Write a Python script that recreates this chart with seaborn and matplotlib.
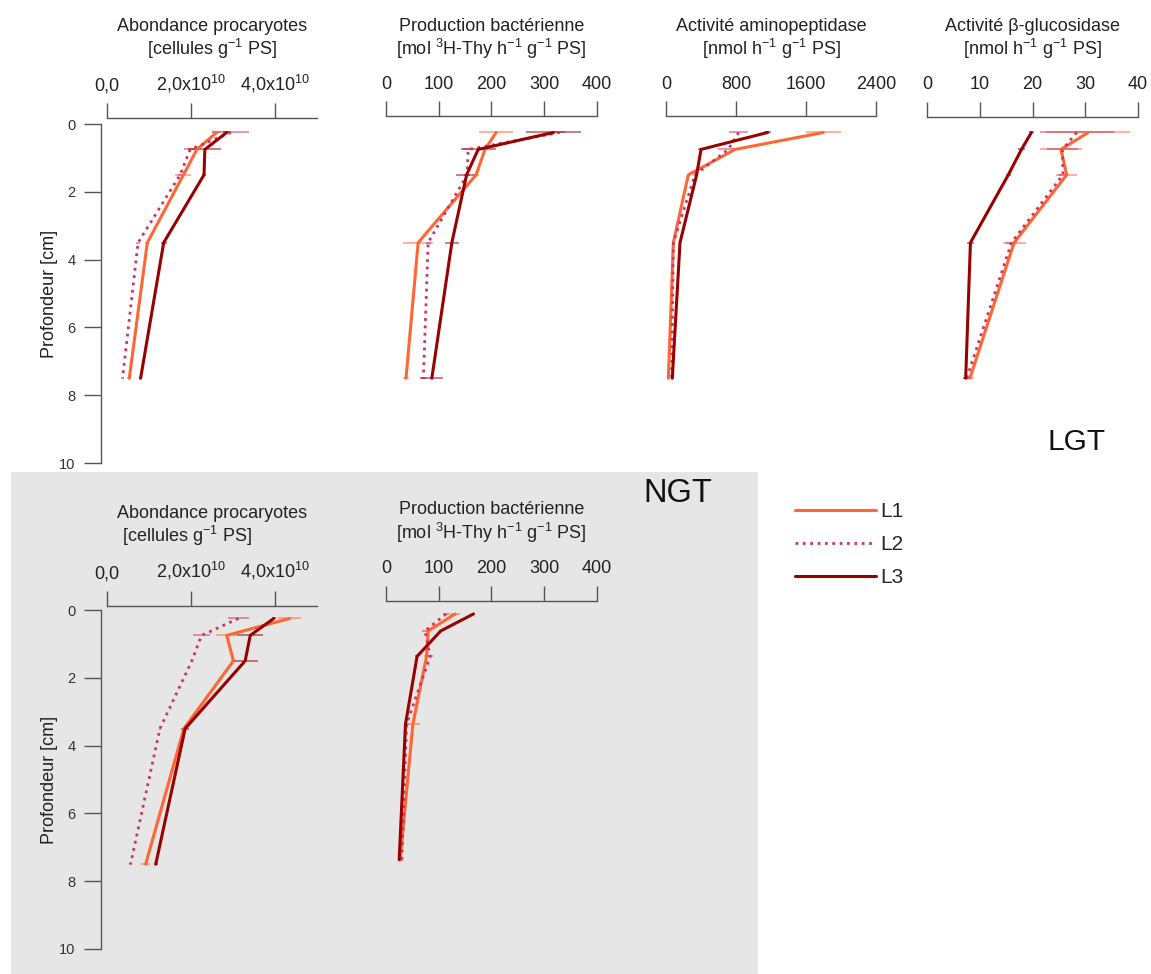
import matplotlib
matplotlib.use("Agg")
import matplotlib.pyplot as plt
import seaborn as sns

sns.set_style("ticks")
plt.rcParams['font.family'] = ['Liberation Sans', 'DejaVu Sans']
plt.rcParams['mathtext.fontset'] = 'custom'
plt.rcParams['mathtext.rm'] = 'Liberation Sans'
plt.rcParams['mathtext.it'] = 'Liberation Sans:italic'
plt.rcParams['mathtext.bf'] = 'Liberation Sans:bold'

# -----------------------------
# Data (depth profiles)
# -----------------------------
depth = [0.25, 0.75, 1.5, 3.5, 7.5]
series = ['L1', 'L2', 'L3']

# LGT - Abondance procaryotes (cellules g-1 PS)
lgt_abond_L1 = [2.61e10, 2.14e10, 1.82e10, 0.96e10, 0.53e10]
lgt_abond_L2 = [2.95e10, 1.98e10, 1.74e10, 0.74e10, 0.37e10]
lgt_abond_L3 = [2.85e10, 2.33e10, 2.31e10, 1.35e10, 0.80e10]
lgt_abond_err_L1 = [0.10e10, 0.10e10, 0.19e10, 0.05e10, 0.05e10]
lgt_abond_err_L2 = [0.44e10, 0.15e10, 0.05e10, 0.05e10, 0.03e10]
lgt_abond_err_L3 = [0.10e10, 0.39e10, 0.05e10, 0.07e10, 0.03e10]

# LGT - Production bacterienne
lgt_prod_L1 = [209, 188, 171, 61, 38]
lgt_prod_L2 = [330, 156, 154, 80, 71]
lgt_prod_L3 = [318, 175, 153, 125, 87]
lgt_prod_err_L1 = [32, 5, 5, 28, 5]
lgt_prod_err_L2 = [10, 10, 5, 5, 5]
lgt_prod_err_L3 = [52, 33, 20, 13, 22]

# LGT - Activite aminopeptidase
lgt_amino_L1 = [1798, 789, 255, 84, 27]
lgt_amino_L2 = [830, 712, 331, 84, 65]
lgt_amino_L3 = [1162, 400, 350, 160, 72]
lgt_amino_err_L1 = [200, 30, 20, 10, 5]
lgt_amino_err_L2 = [110, 120, 20, 10, 5]
lgt_amino_err_L3 = [40, 30, 20, 10, 5]

# LGT - Activite beta-glucosidase
lgt_gluco_L1 = [30.6, 25.4, 26.5, 16.5, 8.1]
lgt_gluco_L2 = [28.4, 25.7, 25.8, 16.0, 7.5]
lgt_gluco_L3 = [19.8, 17.9, 15.4, 8.2, 7.3]
lgt_gluco_err_L1 = [8, 4, 2, 2.2, 0.8]
lgt_gluco_err_L2 = [7, 3, 1, 1, 0.5]
lgt_gluco_err_L3 = [0.5, 0.6, 0.5, 0.6, 0.5]

# NGT - Abondance procaryotes
ngt_abond_L1 = [4.35e10, 2.85e10, 3.01e10, 1.83e10, 0.92e10]
ngt_abond_L2 = [3.13e10, 2.25e10, 2.02e10, 1.26e10, 0.56e10]
ngt_abond_L3 = [3.97e10, 3.41e10, 3.29e10, 1.86e10, 1.16e10]
ngt_abond_err_L1 = [0.28e10, 0.26e10, 0.05e10, 0.05e10, 0.10e10]
ngt_abond_err_L2 = [0.24e10, 0.20e10, 0.03e10, 0.03e10, 0.03e10]
ngt_abond_err_L3 = [0.05e10, 0.31e10, 0.30e10, 0.10e10, 0.05e10]

# NGT - Production bacterienne
ngt_prod_L1 = [131, 80, 77, 51, 27]
ngt_prod_L2 = [114, 74, 84, 39, 30]
ngt_prod_L3 = [166, 104, 59, 37, 25]
ngt_prod_err_L1 = [10, 5, 5, 13, 3]
ngt_prod_err_L2 = [5, 5, 5, 5, 3]
ngt_prod_err_L3 = [3, 3, 3, 3, 3]

# axis ticks / labels
abond_ticks = [0, 2e10, 4e10]
abond_ticklabels = ['0,0', '2,0x10$^{10}$', '4,0x10$^{10}$']
prod_ticks = [0, 100, 200, 300, 400]
amino_ticks = [0, 800, 1600, 2400]
gluco_ticks = [0, 10, 20, 30, 40]
depth_ticks = [0, 2, 4, 6, 8, 10]

title_abond = 'Abondance procaryotes\n[cellules g$^{-1}$ PS]'
title_abond_ngt = 'Abondance procaryotes\n [cellules g$^{-1}$ PS]'
title_prod = 'Production bactérienne\n[mol $^{3}$H-Thy h$^{-1}$ g$^{-1}$ PS]'
title_amino = 'Activité aminopeptidase\n[nmol h$^{-1}$ g$^{-1}$ PS]'
title_gluco = 'Activité β-glucosidase\n[nmol h$^{-1}$ g$^{-1}$ PS]'

colors = {'L1': '#ff6633', 'L2': '#cc3366', 'L3': '#990000'}
styles = {'L1': '-', 'L2': ':', 'L3': '-'}
widths = {'L1': 2.2, 'L2': 2.0, 'L3': 2.2}

# -----------------------------
# Figure layout (pixel boxes)
# -----------------------------
W, H = 1151, 974
fig = plt.figure(figsize=(W / 100, H / 100), dpi=100)

# grey NGT background
fig.patches.append(plt.Rectangle((11 / W, 0), (758 - 11) / W, 1 - 472 / H,
                                 transform=fig.transFigure, facecolor='#e6e6e6',
                                 edgecolor='none', zorder=-5))


def make_axes(x0, x1, y0, y1):
    ax = fig.add_axes([x0 / W, 1 - y1 / H, (x1 - x0) / W, (y1 - y0) / H], facecolor='none')
    ax.set_zorder(2)
    return ax


def draw_panel(ax, vals, errs, xmax, ticks, ticklabels, title, title_y, top_off,
               left_axis, left_off=4.5, malign='center'):
    for name, v, e in zip(series, vals, errs):
        ax.errorbar(v, depth, xerr=e, fmt='none', ecolor=colors[name], alpha=0.55,
                    elinewidth=1.3, capsize=0, zorder=2)
        sns.lineplot(x=v, y=depth, ax=ax, sort=False, estimator=None, color=colors[name],
                     linestyle=styles[name], linewidth=widths[name], label=name,
                     legend=False, zorder=3)
    ax.set_xlim(0, xmax)
    ax.set_ylim(10, 0)
    ax.xaxis.set_ticks_position('top')
    ax.set_xticks(ticks)
    ax.set_xticklabels(ticklabels)
    ax.tick_params(axis='x', direction='out', length=10.8, width=1.0, pad=6,
                   labelsize=13, colors='#555555', labelcolor='#222222')
    ax.set_xlabel('')
    for s in ['bottom', 'right']:
        ax.spines[s].set_visible(False)
    ax.spines['top'].set_position(('outward', top_off))
    ax.spines['top'].set_color('#555555')
    ax.spines['top'].set_linewidth(1.0)
    if left_axis:
        ax.spines['left'].set_position(('outward', left_off))
        ax.spines['left'].set_color('#555555')
        ax.spines['left'].set_linewidth(1.0)
        ax.set_yticks(depth_ticks)
        ax.tick_params(axis='y', direction='out', length=12.5, width=1.0, pad=5.8,
                       labelsize=10.5, colors='#555555', labelcolor='#333333')
        ax.set_ylabel('Profondeur [cm]', fontsize=13, color='#222222', labelpad=1)
    else:
        ax.spines['left'].set_visible(False)
        ax.set_yticks([])
        ax.set_ylabel('')
    # two-line title above the tick labels
    x0, x1 = ax.get_position().x0, ax.get_position().x1
    fig.text((x0 + x1) / 2, 1 - title_y / H, title, ha='center', va='top',
             multialignment=malign, fontsize=13, color='#222222', linespacing=1.12)
    return ax


# LGT row
ax1 = make_axes(107, 317, 124, 463)
draw_panel(ax1, [lgt_abond_L1, lgt_abond_L2, lgt_abond_L3],
           [lgt_abond_err_L1, lgt_abond_err_L2, lgt_abond_err_L3],
           5e10, abond_ticks, abond_ticklabels, title_abond, 18, 4.1, True)

ax2 = make_axes(386, 596.7, 124, 463)
draw_panel(ax2, [lgt_prod_L1, lgt_prod_L2, lgt_prod_L3],
           [lgt_prod_err_L1, lgt_prod_err_L2, lgt_prod_err_L3],
           400, prod_ticks, [str(t) for t in prod_ticks], title_prod, 18, 5.8, False)

ax3 = make_axes(666, 876, 124, 463)
draw_panel(ax3, [lgt_amino_L1, lgt_amino_L2, lgt_amino_L3],
           [lgt_amino_err_L1, lgt_amino_err_L2, lgt_amino_err_L3],
           2400, amino_ticks, [str(t) for t in amino_ticks], title_amino, 18, 5.8, False)

ax4 = make_axes(927.3, 1137.7, 124, 463)
draw_panel(ax4, [lgt_gluco_L1, lgt_gluco_L2, lgt_gluco_L3],
           [lgt_gluco_err_L1, lgt_gluco_err_L2, lgt_gluco_err_L3],
           40, gluco_ticks, [str(t) for t in gluco_ticks], title_gluco, 18, 5.2, False)

# NGT row
ax5 = make_axes(107, 317, 610, 949)
draw_panel(ax5, [ngt_abond_L1, ngt_abond_L2, ngt_abond_L3],
           [ngt_abond_err_L1, ngt_abond_err_L2, ngt_abond_err_L3],
           5e10, abond_ticks, abond_ticklabels, title_abond_ngt, 504.5, 3.1, True,
           malign='left')

ax6 = make_axes(386, 596.7, 605.5, 944.5)
draw_panel(ax6, [ngt_prod_L1, ngt_prod_L2, ngt_prod_L3],
           [ngt_prod_err_L1, ngt_prod_err_L2, ngt_prod_err_L3],
           400, prod_ticks, [str(t) for t in prod_ticks], title_prod, 501.5, 3.5, False)

# site labels
fig.text(1047 / W, 1 - 442 / H, 'LGT', fontsize=21.5, color='#111111', ha='left', va='center')
fig.text(643 / W, 1 - 493 / H, 'NGT', fontsize=23.5, color='#111111', ha='left', va='center')

# legend
handles, labels = ax1.get_legend_handles_labels()
fig.legend(handles, labels, loc='upper left', bbox_to_anchor=(795 / W, 1 - 502 / H),
           frameon=False, fontsize=15, handlelength=3.9, handletextpad=0.2,
           labelspacing=0.67, borderaxespad=0, borderpad=0)

plt.savefig('out.png', dpi=100)
